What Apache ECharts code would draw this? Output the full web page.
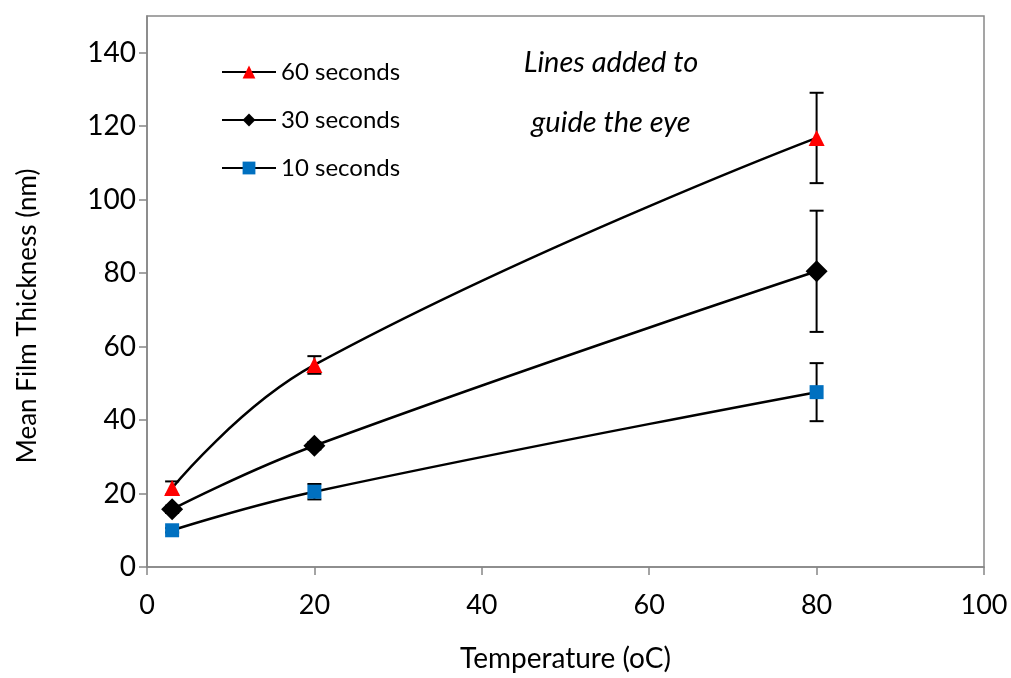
<!DOCTYPE html>
<html>
<head>
<meta charset="utf-8">
<script src="https://cdn.jsdelivr.net/npm/echarts@6/dist/echarts.min.js"></script>
<style>
  html, body { margin: 0; padding: 0; background: #fff; }
  #chart { width: 1011px; height: 678px; }
</style>
</head>
<body>
<div id="chart"></div>
<script>
// Temperatures (oC) at which films were measured
const temperatures = [3, 20, 80];

// Mean film thickness (nm) per deposition time
const thick60 = [21.5, 55.0, 116.8];
const thick30 = [15.7, 33.0, 80.5];
const thick10 = [10.0, 20.5, 47.6];

// Error bar half-widths (nm)
const err60 = [1.8, 2.4, 12.3];
const err30 = [1.0, 1.0, 16.5];
const err10 = [0.6, 2.1, 7.9];

const seriesNames = ['60 seconds', '30 seconds', '10 seconds'];
const xTicks = [0, 20, 40, 60, 80, 100];
const yTicks = [0, 20, 40, 60, 80, 100, 120, 140];
const yAxisMax = 150;

const FONT = 'Lato, "Open Sans", sans-serif';

function pairs(ys) {
  return temperatures.map((x, i) => [x, ys[i]]);
}
function errRows(ys, es) {
  return temperatures.map((x, i) => [x, ys[i] - es[i], ys[i] + es[i]]);
}

function renderErr(params, api) {
  const x = api.value(0);
  const lo = api.coord([x, api.value(1)]);
  const hi = api.coord([x, api.value(2)]);
  const cap = 7;
  const style = { stroke: '#000', lineWidth: 2 };
  return {
    type: 'group',
    children: [
      { type: 'line', shape: { x1: lo[0], y1: lo[1], x2: hi[0], y2: hi[1] }, style },
      { type: 'line', shape: { x1: lo[0] - cap, y1: lo[1], x2: lo[0] + cap, y2: lo[1] }, style },
      { type: 'line', shape: { x1: hi[0] - cap, y1: hi[1], x2: hi[0] + cap, y2: hi[1] }, style }
    ]
  };
}

function lineSeries(name, data, symbol, size, color) {
  return {
    name,
    type: 'line',
    data: pairs(data),
    smooth: 0.45,
    symbol,
    symbolSize: size,
    showAllSymbol: true,
    lineStyle: { color: '#000', width: 2.5 },
    itemStyle: { color, borderWidth: 0 },
    z: 5
  };
}

function errSeries(name, data, errs) {
  return {
    name: name + ' err',
    type: 'custom',
    renderItem: renderErr,
    data: errRows(data, errs),
    encode: { x: 0, y: [1, 2] },
    z: 3,
    silent: true
  };
}

const chart = echarts.init(document.getElementById('chart'));
chart.setOption({
  animation: false,
  backgroundColor: '#fff',
  grid: {
    left: 147, right: 27, top: 16, bottom: 103,
    show: true, borderColor: '#888', borderWidth: 1.5
  },
  legend: {
    orient: 'vertical',
    left: 216, top: 55,
    itemWidth: 54, itemHeight: 16,
    itemGap: 24,
    data: seriesNames,
    textStyle: { fontFamily: FONT, fontSize: 24, color: '#000', padding: [0, 0, 0, 0] }
  },
  xAxis: {
    type: 'value',
    min: xTicks[0], max: xTicks[xTicks.length - 1], interval: 20,
    name: 'Temperature (oC)',
    nameLocation: 'middle', nameGap: 78,
    nameTextStyle: { fontFamily: FONT, fontSize: 28, color: '#000' },
    axisLine: { lineStyle: { color: '#868686', width: 1.5 } },
    axisTick: { show: true, length: 8, lineStyle: { color: '#868686', width: 1.5 } },
    axisLabel: { fontFamily: FONT, fontSize: 27, color: '#000', margin: 25 },
    splitLine: { show: false }
  },
  yAxis: {
    type: 'value',
    min: 0, max: yAxisMax, interval: 20,
    axisLine: { show: true, lineStyle: { color: '#868686', width: 1.5 } },
    axisTick: { show: true, length: 8, customValues: yTicks, lineStyle: { color: '#868686', width: 1.5 } },
    axisLabel: { fontFamily: FONT, fontSize: 28, color: '#000', margin: 11, customValues: yTicks },
    splitLine: { show: false }
  },
  graphic: [
    {
      type: 'text',
      x: 28, y: 316, rotation: Math.PI / 2,
      style: { text: 'Mean Film Thickness (nm)', font: '26px ' + FONT, fill: '#000', textAlign: 'center', textVerticalAlign: 'middle' }
    },
    {
      type: 'text',
      style: { text: 'Lines added to', x: 611, y: 63, font: 'italic 29px ' + FONT, fill: '#000', textAlign: 'center', textVerticalAlign: 'middle' }
    },
    {
      type: 'text',
      style: { text: 'guide the eye', x: 611, y: 123, font: 'italic 29px ' + FONT, fill: '#000', textAlign: 'center', textVerticalAlign: 'middle' }
    }
  ],
  series: [
    errSeries(seriesNames[0], thick60, err60),
    errSeries(seriesNames[1], thick30, err30),
    errSeries(seriesNames[2], thick10, err10),
    lineSeries(seriesNames[0], thick60, 'triangle', 16, '#ff0000'),
    lineSeries(seriesNames[1], thick30, 'diamond', 22, '#000000'),
    lineSeries(seriesNames[2], thick10, 'rect', 14, '#0070c0')
  ]
});
</script>
</body>
</html>
